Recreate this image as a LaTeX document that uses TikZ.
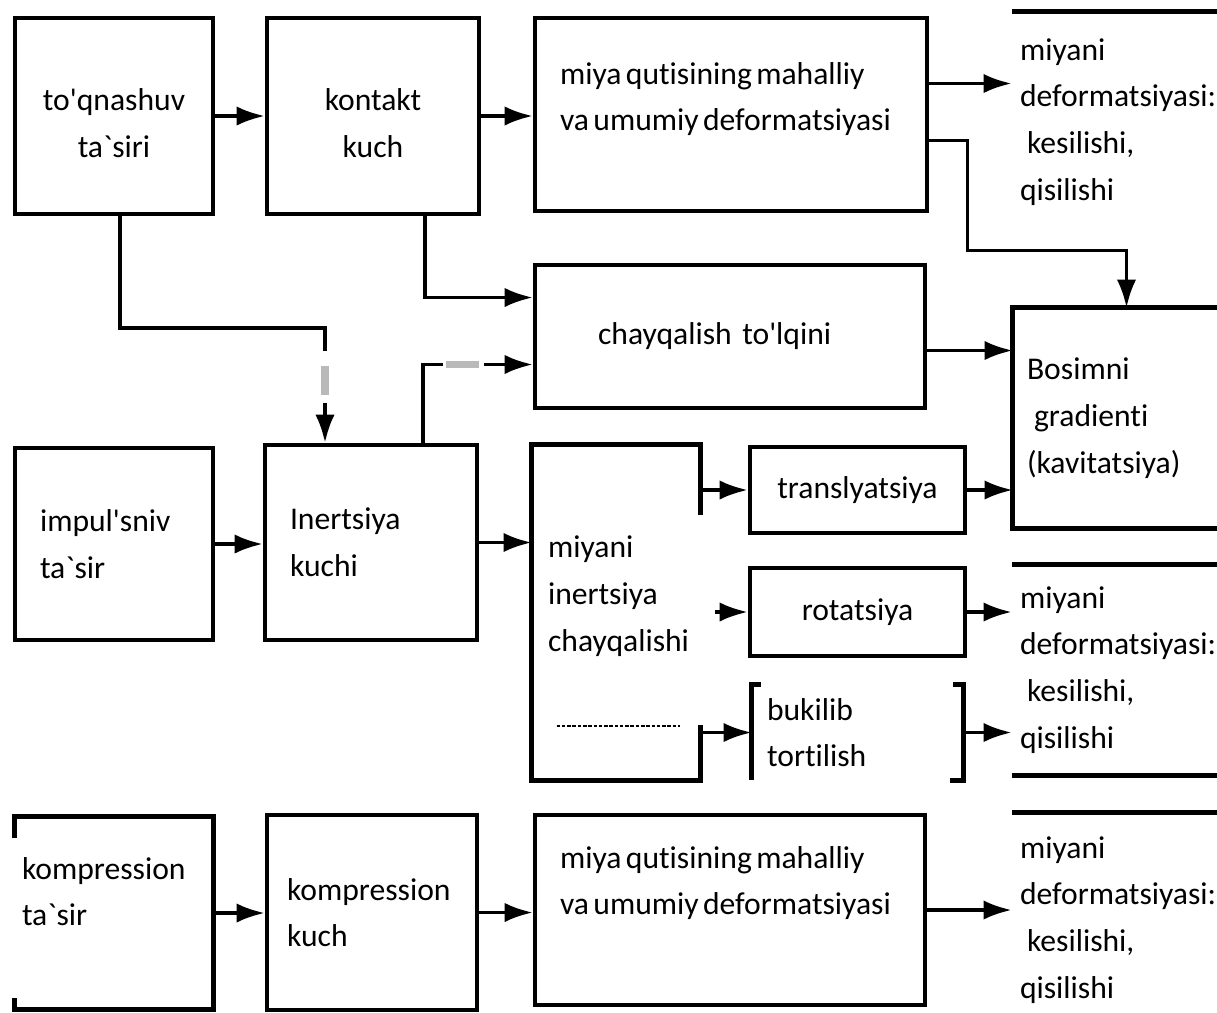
\documentclass[tikz,border=0pt]{standalone}
\usepackage{fontspec}
\newfontfamily\uzfont{Carlito}[Ligatures=NoCommon]
\usetikzlibrary{arrows.meta}

\begin{document}
\begin{tikzpicture}[x=0.02cm, y=-0.02cm,
    >={Latex[length=16pt,width=11pt]},
    txt/.style={inner ysep=0pt, font=\uzfont\fontsize{18}{26.6}\selectfont},
    box/.style={txt, draw=black, line width=2.6pt},
    frame/.style={line width=2.6pt},
    conn/.style={line width=2pt},
    faint/.style={line width=4pt, gray!55}]
    \useasboundingbox (0,0) rectangle (1217,1012);

    % top row
    \node[box, align=center, minimum width=3.96cm, minimum height=3.92cm] at (114,116) (tq) {\mbox{}\\[-5.6pt]to'qnashuv\\ta`siri};
    \node[box, align=center, minimum width=4.24cm, minimum height=3.92cm] at (373,116) (kon) {\mbox{}\\[-5.6pt]kontakt\\kuch};
    \node[box, align=left, inner xsep=0.5cm, text width=6.84cm, minimum height=3.86cm] at (731,114.5) (mqt) {\spaceskip=2.5pt\relax\mbox{miya qutisining mahalliy}\\\mbox{va umumiy deformatsiyasi}\\[-6pt]\mbox{}};
    \node[txt, align=left, inner xsep=0.16cm, text width=4.24cm, minimum height=4.4cm] at (1126,122) (def1) {miyani\\\mbox{deformatsiyasi:}\\\hspace*{4pt}kesilishi,\\qisilishi};
    \node[box, align=left, inner xsep=1.26cm, text width=5.28cm, minimum height=2.86cm] at (730,336.5) (chay) {chayqalish to'lqini};
    \node[txt, align=left, inner xsep=0.28cm, text width=3.98cm, minimum height=4.4cm] at (1126.5,418) (bos) {Bosimni\\\hspace*{4pt}gradienti\\(kavitatsiya)};

    % middle row
    \node[box, align=left, inner xsep=0.5cm, text width=2.96cm, minimum height=3.84cm] at (114,544) (imp) {impul'sniv\\ta`sir};
    \node[box, align=left, inner xsep=0.5cm, text width=3.24cm, minimum height=3.9cm] at (371,542.5) (inert) {Inertsiya\\kuchi};
    \node[txt, align=left, inner xsep=0.32cm, text width=2.72cm, minimum height=6.7cm] at (616,612.5) (mic) {miyani\\inertsiya\\chayqalishi\\[-5pt]\mbox{}};
    \node[box, minimum width=4.3cm, minimum height=1.72cm] at (857.5,490) (trans) {translyatsiya};
    \node[box, minimum width=4.3cm, minimum height=1.76cm] at (857.5,612) (rot) {rotatsiya};
    \node[txt, align=left, inner xsep=0.3cm, text width=3.62cm, minimum height=1.9cm] at (857.5,732.5) (buk) {bukilib\\tortilish};
    \node[txt, align=left, inner xsep=0.16cm, text width=4.24cm, minimum height=4.2cm] at (1126,670) (def2) {miyani\\\mbox{deformatsiyasi:}\\\hspace*{4pt}kesilishi,\\qisilishi};

    % bottom row
    \node[txt, align=left, inner xsep=0.14cm, text width=3.68cm, minimum height=3.84cm] at (114,913) (kt) {\mbox{kompression}\\ta`sir\\[-2pt]\mbox{}};
    \node[box, align=left, inner xsep=0.4cm, text width=3.4cm, minimum height=3.9cm] at (372,912.5) (kk) {\mbox{kompression}\\kuch};
    \node[box, align=left, inner xsep=0.5cm, text width=6.8cm, minimum height=3.8cm] at (730,910) (mqb) {\spaceskip=2.5pt\relax\mbox{miya qutisining mahalliy}\\\mbox{va umumiy deformatsiyasi}\\[7pt]\mbox{}};
    \node[txt, align=left, inner xsep=0.16cm, text width=4.24cm, minimum height=4.28cm] at (1126,920) (def3) {miyani\\\mbox{deformatsiyasi:}\\\hspace*{4pt}kesilishi,\\qisilishi};

    % open frames
    \draw[frame] (def1.north west) -- (def1.north east);
    \draw[frame] (bos.north east) -- (bos.north west) -- (bos.south west) -- (bos.south east);
    \draw[frame] ([yshift=-1.4cm]mic.north east) -- (mic.north east) -- (mic.north west) -- (mic.south west) -- (mic.south east) -- ([yshift=1.1cm]mic.south east);
    \draw[line width=1.2pt, dash pattern=on 2pt off 1pt] ([xshift=0.5cm,yshift=1.08cm]mic.south west) -- ([xshift=2.96cm,yshift=1.08cm]mic.south west);
    \draw[frame] ([xshift=0.18cm]buk.north west) -- (buk.north west) -- (buk.south west);
    \draw[frame] ([xshift=-0.2cm]buk.north east) -- (buk.north east) -- (buk.south east) -- ([xshift=-0.26cm]buk.south east);
    \draw[frame] (def2.north west) -- (def2.north east);
    \draw[frame] (def2.south west) -- (def2.south east);
    \draw[frame] ([yshift=-0.42cm]kt.north west) -- (kt.north west) -- (kt.north east) -- (kt.south east) -- (kt.south west) -- ([yshift=0.22cm]kt.south west);
    \draw[frame] (def3.north west) -- (def3.north east);

    % connectors
    \coordinate (a1) at ([yshift=0.62cm]mqt.east);
    \coordinate (c1) at ([yshift=-0.28cm]chay.east);
    \coordinate (g1) at ([yshift=-0.56cm]chay.west);
    \coordinate (g2) at ([xshift=-0.92cm]inert.north);
    \coordinate (r0) at ([xshift=-0.66cm]rot.west);
    \draw[conn, ->] (tq) -- (kon);
    \draw[conn, ->] (kon.east) -- (kon.east -| mqt.west);
    \draw[conn, ->] (a1) -- (a1 -| def1.west);
    \draw[conn, ->] ([yshift=-0.52cm]mqt.east) -- ++(38,0) -- ++(0,110) -| (bos.north);
    \draw[conn, ->] ([xshift=1.04cm]kon.south) |- ([yshift=0.78cm]chay.west);
    \draw[conn] ([xshift=0.12cm]tq.south) |- ([yshift=2.3cm]g2) -- ([yshift=1.84cm]g2);
    \draw[faint] ([yshift=1.54cm]g2) -- ([yshift=0.96cm]g2);
    \draw[conn, ->] ([yshift=0.8cm]g2) -- (g2);
    \draw[conn] ([xshift=1.04cm]inert.north) |- ([xshift=-1.8cm]g1);
    \draw[faint] ([xshift=-1.74cm]g1) -- ([xshift=-1.08cm]g1);
    \draw[conn, ->] ([xshift=-0.98cm]g1) -- (g1);
    \draw[conn, ->] (c1) -- (c1 -| bos.west);
    \draw[conn, ->] (trans.east) -- (trans.east -| bos.west);
    \draw[conn, ->] (imp.east) -- (imp.east -| inert.west);
    \draw[conn, ->] (inert.east) -- (inert.east -| mic.west);
    \draw[conn, ->] (mic.east |- trans.west) -- (trans.west);
    \draw[conn, ->] (r0) -- (rot.west);
    \draw[conn, ->] (mic.east |- buk.west) -- (buk.west);
    \draw[conn, ->] (rot.east) -- (rot.east -| def2.west);
    \draw[conn, ->] (buk.east) -- (buk.east -| def2.west);
    \draw[conn, ->] (kt.east) -- (kt.east -| kk.west);
    \draw[conn, ->] (kk.east) -- (kk.east -| mqb.west);
    \draw[conn, ->] (mqb.east) -- (mqb.east -| def3.west);
\end{tikzpicture}
\end{document}
